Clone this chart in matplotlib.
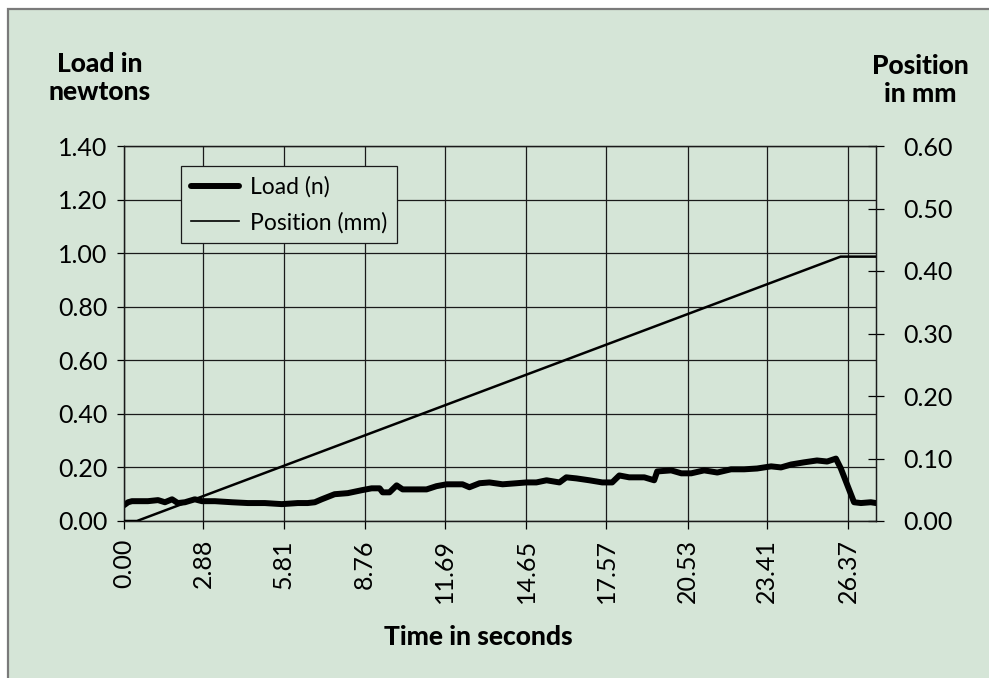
import matplotlib
matplotlib.use("Agg")
import matplotlib.pyplot as plt
from matplotlib.patches import Rectangle
from matplotlib.lines import Line2D

# ---- data ----
x_tick_labels = ["0.00", "2.88", "5.81", "8.76", "11.69", "14.65", "17.57", "20.53", "23.41", "26.37"]
x_ticks = [0.00, 2.88, 5.81, 8.76, 11.69, 14.65, 17.57, 20.53, 23.41, 26.37]
load_ticks = [0.0, 0.2, 0.4, 0.6, 0.8, 1.0, 1.2, 1.4]
pos_ticks = [0.0, 0.1, 0.2, 0.3, 0.4, 0.5, 0.6]

load_time = [0, 0.15, 0.29, 0.87, 1.24, 1.49, 1.75, 1.96, 2.22, 2.58,
             2.84, 3.31, 3.93, 4.51, 5.13, 5.75, 6.33, 6.69, 6.95, 7.20,
             7.67, 8.15, 8.66, 9.02, 9.31, 9.42, 9.67, 9.93, 10.15, 10.58,
             11.02, 11.38, 11.75, 12.33, 12.58, 12.95, 13.31, 13.79, 14.30, 14.66,
             15.02, 15.39, 15.86, 16.11, 16.48, 16.95, 17.42, 17.78, 18.04, 18.40,
             18.95, 19.31, 19.42, 19.93, 20.30, 20.66, 21.13, 21.61, 22.11, 22.59,
             23.06, 23.57, 23.93, 24.30, 24.77, 25.24, 25.61, 25.93, 26.11, 26.59,
             26.84, 27.20, 27.39]
load_vals = [0.059, 0.070, 0.074, 0.074, 0.078, 0.070, 0.081, 0.067, 0.070, 0.081,
             0.074, 0.074, 0.070, 0.067, 0.067, 0.063, 0.067, 0.067, 0.070, 0.081,
             0.100, 0.104, 0.115, 0.122, 0.122, 0.107, 0.107, 0.133, 0.118, 0.118,
             0.118, 0.130, 0.137, 0.137, 0.126, 0.141, 0.144, 0.137, 0.141, 0.144,
             0.144, 0.152, 0.144, 0.163, 0.159, 0.152, 0.144, 0.144, 0.170, 0.163,
             0.163, 0.152, 0.185, 0.189, 0.178, 0.178, 0.189, 0.181, 0.193, 0.193,
             0.196, 0.204, 0.200, 0.211, 0.219, 0.226, 0.222, 0.233, 0.196, 0.070,
             0.067, 0.070, 0.067]

pos_time = [0.0, 0.47, 26.10, 27.39]
pos_vals = [0.0, 0.0, 0.423, 0.423]

# ---- style ----
BG = "#d5e5d7"
FONT = "Lato"
plt.rcParams["font.family"] = [FONT, "DejaVu Sans"]

W, H = 989, 678
fig = plt.figure(figsize=(W / 100, H / 100), dpi=100, facecolor="white")

# page panel with grey border (top and left visible)
panel = Rectangle((8 / W, -0.1), 1.2, 1.1 - 9 / H, transform=fig.transFigure,
                  facecolor=BG, edgecolor="#7a7a7a", linewidth=1.6, zorder=-10)
fig.patches.append(panel)

ax = fig.add_axes([124 / W, 1 - 521 / H, (876 - 124) / W, (521 - 146) / H], zorder=1)
ax.set_facecolor("none")
ax2 = ax.twinx()
ax2.set_facecolor("none")

ax.plot(load_time, load_vals, color="black", lw=4.3, solid_joinstyle="round",
        solid_capstyle="round", zorder=3)
ax2.plot(pos_time, pos_vals, color="black", lw=1.8, zorder=3)

ax.set_xlim(0, 27.39)
ax.set_ylim(0, 1.4)
ax2.set_ylim(0, 0.6)

ax.set_xticks(x_ticks)
ax.set_xticklabels(x_tick_labels, rotation=90)
ax.set_yticks(load_ticks)
ax.set_yticklabels([f"{v:.2f}" for v in load_ticks])
ax2.set_yticks(pos_ticks)
ax2.set_yticklabels([f"{v:.2f}" for v in pos_ticks])

ax.grid(True, color="#1a1a1a", lw=0.9)
ax.set_axisbelow(True)

for s in ax.spines.values():
    s.set_color("#1a1a1a"); s.set_linewidth(0.9)
for s in ax2.spines.values():
    s.set_color("#1a1a1a"); s.set_linewidth(0.9)

TICK_FS = 18
ax.tick_params(axis="x", direction="out", length=6, width=0.9, pad=7, labelsize=TICK_FS, colors="black")
ax.tick_params(axis="y", direction="out", length=5, width=0.9, pad=7, labelsize=TICK_FS, colors="black")
ax2.tick_params(axis="y", direction="inout", length=11, width=0.9, pad=14, labelsize=TICK_FS, colors="black")

handles = [Line2D([], [], color="black", lw=4.3, solid_capstyle="round"),
           Line2D([], [], color="black", lw=1.2)]
leg = ax2.legend(handles, ["Load (n)", "Position (mm)"], loc="upper left",
                 bbox_to_anchor=((181 - 124) / (876 - 124), 1 - (166 - 146) / (521 - 146)),
                 fontsize=16.5, frameon=True, fancybox=False, borderaxespad=0,
                 handlelength=2.1, handletextpad=0.45, labelspacing=0.6,
                 borderpad=0.45)
leg.get_frame().set_facecolor(BG)
leg.get_frame().set_edgecolor("#1a1a1a")
leg.get_frame().set_linewidth(0.9)
leg.get_frame().set_alpha(1)

fig.text(100 / W, 1 - 78 / H, "Load in\nnewtons", ha="center", va="center",
         fontsize=19, fontweight="black", linespacing=1.15)
fig.text(920 / W, 1 - 80 / H, "Position\nin mm", ha="center", va="center",
         fontsize=19, fontweight="black", linespacing=1.15)
fig.text(478 / W, 1 - 637 / H, "Time in seconds", ha="center", va="center",
         fontsize=19, fontweight="black")

fig.savefig("out.png", dpi=100, facecolor="white")
